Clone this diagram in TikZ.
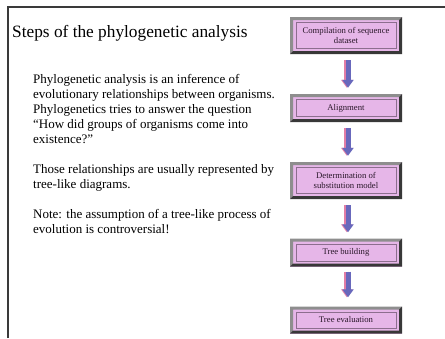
\documentclass[tikz,border=0pt]{standalone}
\usepackage{fontspec}
\setmainfont{Liberation Serif}
\usetikzlibrary{arrows.meta}

\definecolor{framegray}{HTML}{3A3A3A}
\definecolor{boxpink}{HTML}{E6B6E8}
\definecolor{bevlight}{HTML}{8E8E8E}
\definecolor{bevdark}{HTML}{383838}
\definecolor{innerline}{HTML}{8C6E8E}
\definecolor{boxtext}{HTML}{2A182A}
\definecolor{flowblue}{HTML}{6868BC}
\definecolor{flowpink}{HTML}{E27EA6}

\tikzset{
  stepbox/.style={
    rectangle, fill=boxpink, minimum width=112pt, inner sep=0pt,
    align=center, text=boxtext,
    font=\fontsize{8.7}{10}\selectfont,
    path picture={
      % light bevel on top and left
      \fill[bevlight]
        (path picture bounding box.south west) --
        (path picture bounding box.north west) --
        (path picture bounding box.north east) --
        ([shift={(-3pt,-3pt)}]path picture bounding box.north east) --
        ([shift={(3pt,-3pt)}]path picture bounding box.north west) --
        ([shift={(3pt,3pt)}]path picture bounding box.south west) -- cycle;
      % dark bevel on bottom and right
      \fill[bevdark]
        (path picture bounding box.south west) --
        (path picture bounding box.south east) --
        (path picture bounding box.north east) --
        ([shift={(-3pt,-3pt)}]path picture bounding box.north east) --
        ([shift={(-3pt,3pt)}]path picture bounding box.south east) --
        ([shift={(3pt,3pt)}]path picture bounding box.south west) -- cycle;
      % thin inset outline
      \draw[innerline, line width=0.6pt]
        ([shift={(6pt,5.5pt)}]path picture bounding box.south west) rectangle
        ([shift={(-6pt,-5.5pt)}]path picture bounding box.north east);
    }},
  flow/.style={
    draw=flowblue, line width=5pt,
    -{Triangle[width=11pt,length=8pt]},
    preaction={draw=flowpink, line width=5pt,
      -{Triangle[width=11pt,length=8pt]},
      transform canvas={xshift=-1.2pt}}},
  bodytext/.style={anchor=base west, align=left, inner sep=0pt,
    font=\fontsize{13}{15}\selectfont},
}

\begin{document}
\begin{tikzpicture}[x=1pt,y=1pt]
  \useasboundingbox (0,0) rectangle (445,-338);
  \fill[white] (0,0) rectangle (445,-338);

  % slide frame
  \draw[framegray, line width=1.2pt] (8,-338) -- (8,-7) -- (445,-7);

  % title
  \node[anchor=base west, inner sep=0pt,
        font=\fontsize{17.3}{20}\selectfont] (title) at (12,-37)
        {Steps of the phylogenetic analysis};

  % explanatory text (the base anchor sits on each paragraph's last line)
  \node[bodytext] (para1) at (33,-143)
    {Phylogenetic analysis is an inference of\\
     evolutionary relationships between organisms.\\
     Phylogenetics tries to answer the question\\
     “How did groups of organisms come into\\
     existence?”};
  \node[bodytext] (para2) at (33,-188)
    {Those relationships are usually represented by\\
     tree-like diagrams.};
  \node[bodytext] (para3) at (33,-233)
    {Note: the assumption of a tree-like process of\\
     evolution is controversial!};

  % workflow boxes
  \node[stepbox, minimum height=37pt] (s1) at (346,-35.5)
    {Compilation of sequence\\dataset};
  \node[stepbox, minimum height=28pt] (s2) at (346,-108)
    {Alignment};
  \node[stepbox, minimum height=37pt] (s3) at (346,-180.5)
    {Determination of\\substitution model};
  \node[stepbox, minimum height=28pt] (s4) at (346,-252.5)
    {Tree building};
  \node[stepbox, minimum height=27pt] (s5) at (346,-320)
    {Tree evaluation};

  % arrows between steps
  \draw[flow] ([xshift=2pt,yshift=-6pt]s1.south) -- ([xshift=2pt,yshift=6pt]s2.north);
  \draw[flow] ([xshift=2pt,yshift=-6pt]s2.south) -- ([xshift=2pt,yshift=6pt]s3.north);
  \draw[flow] ([xshift=2pt,yshift=-6pt]s3.south) -- ([xshift=2pt,yshift=6pt]s4.north);
  \draw[flow] ([xshift=2pt,yshift=-5pt]s4.south) -- ([xshift=2pt,yshift=9pt]s5.north);
\end{tikzpicture}
\end{document}
